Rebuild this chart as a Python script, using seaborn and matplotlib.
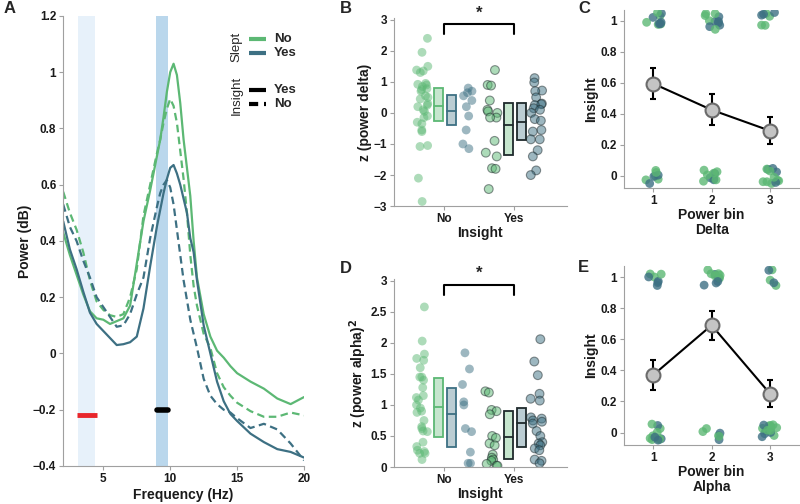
import numpy as np
import pandas as pd
import matplotlib.pyplot as plt
import seaborn as sns
from matplotlib.colors import to_rgba
from matplotlib.ticker import FuncFormatter

# === colours ===
green = "#5cb874"
blue = "#3d7083"
dark_edge = "#1f2a2c"

# === A: power spectra (dB) ===
freq = [2, 2.5, 3, 3.5, 4, 4.5, 5, 5.5, 6, 6.5, 7, 7.5, 8, 8.5, 9, 9.25, 9.5, 9.75,
        10, 10.25, 10.5, 10.75, 11, 11.25, 11.5, 11.75, 12, 12.5, 13, 13.5, 14, 14.5,
        15, 16, 17, 18, 19, 20]
pow_noslept_ins = [0.43, 0.35, 0.28, 0.21, 0.15, 0.125, 0.12, 0.105, 0.115, 0.125, 0.17, 0.32,
                   0.47, 0.58, 0.70, 0.76, 0.84, 0.93, 1.00, 1.03, 0.99, 0.89, 0.76, 0.66,
                   0.56, 0.40, 0.27, 0.14, 0.06, 0.01, -0.015, -0.045, -0.07, -0.10, -0.125,
                   -0.16, -0.18, -0.155]
pow_noslept_noins = [0.575, 0.50, 0.44, 0.36, 0.26, 0.185, 0.155, 0.136, 0.13, 0.14, 0.20, 0.30,
                     0.49, 0.60, 0.71, 0.76, 0.82, 0.87, 0.905, 0.88, 0.82, 0.72, 0.62, 0.50,
                     0.35, 0.24, 0.17, 0.07, 0.02, -0.07, -0.12, -0.15, -0.175, -0.205, -0.225,
                     -0.225, -0.21, -0.22]
pow_slept_ins = [0.47, 0.37, 0.30, 0.22, 0.145, 0.105, 0.08, 0.055, 0.03, 0.033, 0.04, 0.06,
                 0.16, 0.31, 0.45, 0.51, 0.57, 0.62, 0.66, 0.67, 0.64, 0.60, 0.55, 0.50,
                 0.41, 0.36, 0.26, 0.10, 0.0, -0.10, -0.17, -0.215, -0.24, -0.285, -0.315,
                 -0.34, -0.35, -0.37]
pow_slept_noins = [0.53, 0.45, 0.40, 0.33, 0.27, 0.20, 0.165, 0.13, 0.095, 0.10, 0.14, 0.21,
                   0.27, 0.41, 0.52, 0.57, 0.60, 0.617, 0.59, 0.53, 0.44, 0.35, 0.26, 0.19,
                   0.12, 0.07, 0.02, -0.09, -0.15, -0.18, -0.20, -0.21, -0.23, -0.265, -0.25,
                   -0.27, -0.32, -0.38]
delta_band = [3.1, 4.4]
alpha_band = [8.9, 9.8]
sig_delta = [3.0, 4.5]
sig_delta_y = -0.22
sig_alpha = [9.0, 9.8]
sig_alpha_y = -0.2

# === B: z(power delta) per participant ===
delta_insno_sleptno = [2.4, 1.95, 1.5, 1.38, 1.35, 1.3, 0.95, 0.92, 0.9, 0.85, 0.78, 0.75, 0.7,
                       0.55, 0.5, 0.45, 0.3, 0.25, 0.2, 0.1, 0.05, -0.1, -0.15, -0.3, -0.35,
                       -0.55, -0.6, -1.05, -1.08, -2.1, -2.85]
delta_insno_sleptyes = [0.8, 0.7, 0.65, 0.55, 0.4, 0.2, -0.1, -0.55, -1.0, -1.15]
delta_insyes_sleptno = [1.38, 0.9, 0.88, 0.4, 0.1, 0.05, 0.0, -0.15, -0.15, -0.9, -1.28, -1.4,
                        -1.78, -1.8, -2.45]
delta_insyes_sleptyes = [1.12, 0.98, 0.72, 0.7, 0.5, 0.3, 0.28, 0.25, 0.15, 0.1, 0.0, -0.2,
                         -0.25, -0.55, -0.6, -0.85, -0.85, -1.2, -1.4, -1.85, -2.0]
# boxes: (ins No/slept No, ins No/slept Yes, ins Yes/slept No, ins Yes/slept Yes)
delta_box_low = [-0.25, -0.4, -1.35, -0.88]
delta_box_mid = [0.22, 0.05, -0.4, -0.3]
delta_box_high = [0.8, 0.58, 0.32, 0.32]

# === D: z(power alpha)^2 per participant ===
alpha_insno_sleptno = [2.58, 2.03, 1.82, 1.75, 1.72, 1.6, 1.45, 1.45, 1.4, 1.28, 1.15, 1.12,
                       1.08, 1.0, 0.95, 0.9, 0.88, 0.75, 0.65, 0.62, 0.58, 0.57, 0.4, 0.33,
                       0.27, 0.25, 0.22, 0.22, 0.12]
alpha_insno_sleptyes = [1.84, 1.58, 1.33, 1.05, 1.0, 0.62, 0.57, 0.24, 0.06, 0.06]
alpha_insyes_sleptno = [1.22, 1.2, 0.92, 0.9, 0.85, 0.5, 0.47, 0.38, 0.35, 0.2, 0.15, 0.12,
                        0.1, 0.05, 0.02, 0.02]
alpha_insyes_sleptyes = [2.06, 1.7, 1.48, 1.18, 1.1, 1.07, 0.8, 0.78, 0.75, 0.73, 0.7, 0.58,
                         0.5, 0.4, 0.38, 0.35, 0.3, 0.27, 0.12, 0.1, 0.06]
alpha_box_low = [0.48, 0.33, 0.13, 0.33]
alpha_box_mid = [0.97, 0.85, 0.48, 0.71]
alpha_box_high = [1.43, 1.27, 0.9, 0.95]

# === C / E: insight by power bin ===
bins = [1, 2, 3]
delta_mean = [0.595, 0.425, 0.29]
delta_err = [0.1, 0.1, 0.088]
alpha_mean = [0.37, 0.69, 0.25]
alpha_err = [0.097, 0.093, 0.085]
# number of participants per bin: (insight 1 / 0) x (slept No / Yes)
delta_n_ins_sleptno = [5, 5, 4]
delta_n_ins_sleptyes = [5, 6, 3]
delta_n_noins_sleptno = [5, 7, 8]
delta_n_noins_sleptyes = [3, 3, 4]
alpha_n_ins_sleptno = [3, 6, 3]
alpha_n_ins_sleptyes = [4, 5, 2]
alpha_n_noins_sleptno = [8, 4, 9]
alpha_n_noins_sleptyes = [4, 2, 5]

# === style ===
sns.set_theme(style="ticks")
plt.rcParams["font.family"] = ["Liberation Sans", "DejaVu Sans"]
plt.rcParams["font.weight"] = "bold"
plt.rcParams["axes.labelweight"] = "bold"
rng = np.random.default_rng(4)
fmt = FuncFormatter(lambda v, p: f"{v:g}".replace("-", "\u2212"))


def style_axis(ax, xpad=1, ypad=2):
    sns.despine(ax=ax)
    for s in ["left", "bottom"]:
        ax.spines[s].set_color("#a0a0a0")
        ax.spines[s].set_linewidth(0.8)
    ax.tick_params(color="#a0a0a0", length=3, width=0.8, labelsize=8.5,
                   labelcolor="#1a1a1a", pad=2)
    ax.xaxis.labelpad = xpad
    ax.yaxis.labelpad = ypad
    ax.xaxis.label.set_size(10)
    ax.yaxis.label.set_size(10)
    ax.xaxis.label.set_color("#1a1a1a")
    ax.yaxis.label.set_color("#1a1a1a")
    ax.yaxis.set_major_formatter(fmt)


fig = plt.figure(figsize=(8, 5.04), dpi=100)
axA = fig.add_axes([0.079, 0.0754, 0.301, 0.893])
axB = fig.add_axes([0.4925, 0.591, 0.216, 0.373])
axD = fig.add_axes([0.4925, 0.0734, 0.216, 0.373])
axC = fig.add_axes([0.78, 0.627, 0.219, 0.353])
axE = fig.add_axes([0.78, 0.117, 0.219, 0.355])

# ---------- A ----------
spectra = pd.concat([
    pd.DataFrame({"freq": freq, "power": p, "Slept": s, "Insight": i})
    for p, s, i in [(pow_slept_noins, "Yes", "No"), (pow_slept_ins, "Yes", "Yes"),
                    (pow_noslept_noins, "No", "No"), (pow_noslept_ins, "No", "Yes")]
])
axA.axvspan(*delta_band, color="#e7f1fa", lw=0, zorder=0)
axA.axvspan(*alpha_band, color="#bad7ec", lw=0, zorder=0)
sns.lineplot(data=spectra, x="freq", y="power", hue="Slept", style="Insight",
             hue_order=["No", "Yes"], palette=[green, blue], style_order=["Yes", "No"],
             dashes={"Yes": "", "No": (3.4, 2.0)}, lw=1.6, legend=False, sort=False, ax=axA)
axA.plot(sig_delta, [sig_delta_y] * 2, color="#e8262b", lw=3.5, solid_capstyle="butt")
axA.plot(sig_alpha, [sig_alpha_y] * 2, color="black", lw=4, solid_capstyle="round")
axA.set_xlim(2, 20)
axA.set_ylim(-0.4, 1.2)
axA.set_xticks([5, 10, 15, 20])
axA.set_yticks(np.arange(-0.4, 1.21, 0.2))
axA.set_xlabel("Frequency (Hz)")
axA.set_ylabel("Power (dB)")
style_axis(axA, xpad=2, ypad=1)

# manual legend
tr = axA.transAxes
axA.text(0.72, 0.932, "Slept", rotation=90, ha="center", va="center", fontsize=9.5,
         fontweight="normal", transform=tr)
axA.text(0.72, 0.823, "Insight", rotation=90, ha="center", va="center", fontsize=9.5,
         fontweight="normal", transform=tr)
for y, c, ls, lab in [(0.948, green, "-", "No"), (0.917, blue, "-", "Yes"),
                      (0.836, "black", "-", "Yes"), (0.804, "black", (0, (2.2, 1.4)), "No")]:
    axA.plot([0.773, 0.842], [y, y], color=c, lw=3, ls=ls, solid_capstyle="butt",
             transform=tr, clip_on=False)
    axA.text(0.875, y, lab, ha="left", va="center", fontsize=9.5, transform=tr)


# ---------- B / D ----------
def draw_z_panel(ax, groups, lows, mids, highs, ylim, yticks, ylabel, bracket):
    df = pd.concat([pd.DataFrame({"Insight": ins, "Slept": sl, "z": vals})
                    for (ins, sl), vals in groups])
    df["x"] = (df["Insight"].map({"No": 1, "Yes": 2}) + df["Slept"].map({"No": -0.32, "Yes": 0.32})
               + rng.uniform(-0.09, 0.09, len(df)))
    for ins, ec, lw in [("No", "none", 0), ("Yes", dark_edge, 0.8)]:
        sns.scatterplot(data=df[df["Insight"] == ins], x="x", y="z", hue="Slept",
                        hue_order=["No", "Yes"], palette=[green, blue], alpha=0.5, s=40,
                        edgecolor=ec, linewidth=lw, legend=False, ax=ax)
    box_x = [1 - 0.08, 1 + 0.11, 2 - 0.08, 2 + 0.11]
    face = [green, blue, green, blue]
    edge = [green, blue, dark_edge, dark_edge]
    for x, lo, mid, hi, fc, ec in zip(box_x, lows, mids, highs, face, edge):
        ax.bar(x, hi - lo, bottom=lo, width=0.13, color=to_rgba(fc, 0.35), edgecolor=ec,
               linewidth=1.3, zorder=3)
        ax.plot([x - 0.065, x + 0.065], [mid, mid], color=ec, lw=1.3, zorder=4)
    lo_b, hi_b, star_y = bracket
    ax.plot([1, 1, 2, 2], [lo_b, hi_b, hi_b, lo_b], color="black", lw=1.5, clip_on=False)
    ax.text(1.5, star_y, "*", ha="center", va="center", fontsize=12, clip_on=False)
    ax.set_xlim(0.28, 2.76)
    ax.set_ylim(*ylim)
    ax.set_xticks([1, 2])
    ax.set_xticklabels(["No", "Yes"])
    ax.set_yticks(yticks)
    ax.set_xlabel("Insight")
    ax.set_ylabel(ylabel)
    style_axis(ax, xpad=1, ypad=1)


draw_z_panel(axB, [(("No", "No"), delta_insno_sleptno), (("No", "Yes"), delta_insno_sleptyes),
                   (("Yes", "No"), delta_insyes_sleptno), (("Yes", "Yes"), delta_insyes_sleptyes)],
             delta_box_low, delta_box_mid, delta_box_high, (-3, 3.05), np.arange(-3, 3.1, 1),
             "z (power delta)", (2.55, 2.87, 3.22))
draw_z_panel(axD, [(("No", "No"), alpha_insno_sleptno), (("No", "Yes"), alpha_insno_sleptyes),
                   (("Yes", "No"), alpha_insyes_sleptno), (("Yes", "Yes"), alpha_insyes_sleptyes)],
             alpha_box_low, alpha_box_mid, alpha_box_high, (0, 3.03), np.arange(0, 3.1, 0.5),
             "z (power alpha)$^2$", (2.78, 2.93, 3.13))


# ---------- C / E ----------
def draw_bin_panel(ax, counts, means, errs, xlabel):
    rows = []
    for outcome, slept, n in counts:
        for b, k in zip(bins, n):
            rows += [{"bin": b, "insight": outcome, "Slept": slept}] * k
    df = pd.DataFrame(rows).sample(frac=1, random_state=2).reset_index(drop=True)
    df["x"] = df["bin"] + rng.uniform(-0.15, 0.15, len(df))
    df["y"] = df["insight"] + rng.uniform(-0.055, 0.055, len(df))
    sns.scatterplot(data=df, x="x", y="y", hue="Slept", hue_order=["No", "Yes"],
                    palette=[green, blue], alpha=0.8, s=40, edgecolor="none", legend=False, ax=ax)
    ax.errorbar(bins, means, yerr=errs, fmt="none", ecolor="black", elinewidth=1.5,
                capsize=2.5, capthick=1.5, zorder=3)
    sns.lineplot(x=bins, y=means, color="black", lw=1.5, marker="o", markersize=10,
                 markerfacecolor="#c4c4c4", markeredgecolor="#6b6b6b", markeredgewidth=1.5,
                 zorder=4, ax=ax)
    ax.set_xlim(0.5, 3.5)
    ax.set_ylim(-0.08, 1.07)
    ax.set_xticks(bins)
    ax.set_yticks(np.arange(0, 1.01, 0.2))
    ax.set_xlabel(xlabel, linespacing=1.05)
    ax.set_ylabel("Insight")
    style_axis(ax, xpad=1, ypad=2)


draw_bin_panel(axC, [(1, "No", delta_n_ins_sleptno), (1, "Yes", delta_n_ins_sleptyes),
                     (0, "No", delta_n_noins_sleptno), (0, "Yes", delta_n_noins_sleptyes)],
               delta_mean, delta_err, "Power bin\nDelta")
draw_bin_panel(axE, [(1, "No", alpha_n_ins_sleptno), (1, "Yes", alpha_n_ins_sleptyes),
                     (0, "No", alpha_n_noins_sleptno), (0, "Yes", alpha_n_noins_sleptyes)],
               alpha_mean, alpha_err, "Power bin\nAlpha")

# panel letters
for lab, x, y in [("A", 0.005, 0.984), ("B", 0.425, 0.984), ("C", 0.7225, 0.984),
                  ("D", 0.425, 0.468), ("E", 0.7225, 0.47)]:
    fig.text(x, y, lab, ha="left", va="center", fontsize=12, fontweight="bold")

fig.savefig("out.png", dpi=100)
